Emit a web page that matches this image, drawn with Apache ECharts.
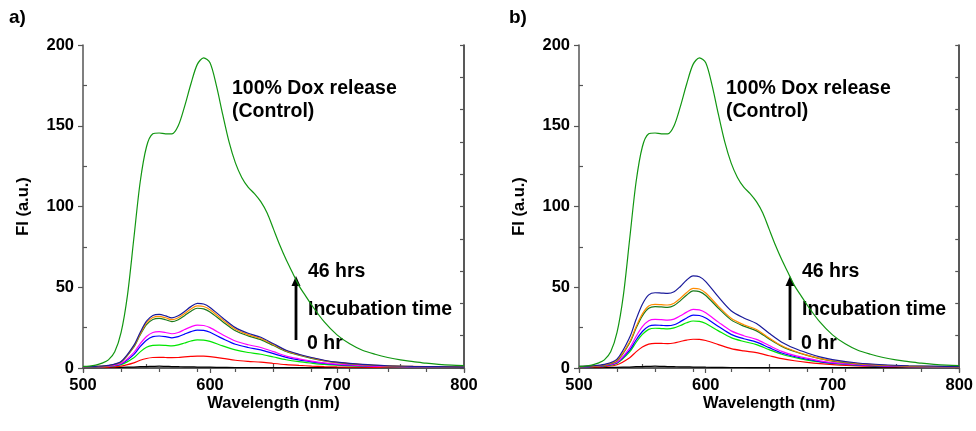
<!DOCTYPE html>
<html>
<head>
<meta charset="utf-8">
<script src="https://cdn.jsdelivr.net/npm/echarts@6/dist/echarts.min.js"></script>
<style>
  html, body { margin: 0; padding: 0; background: #fff; }
  #chart { width: 976px; height: 431px; }
</style>
</head>
<body>
<div id="chart"></div>
<script>
// Wavelength grid (nm) for the time-series spectra
const wavelengths = [500,510,520,530,540,545,550,555,560,565,570,575,580,585,590,595,600,610,620,630,640,650,660,670,680,690,700,720,740,760,780,800];

// Control spectrum (100% Dox release), sampled separately
const controlWavelengths = [500,505,510,515,520,525,530,535,540,545,550,555,560,565,570,575,580,585,590,595,600,605,610,615,620,625,630,635,640,645,650,655,660,665,670,675,680,690,700,710,720,730,740,750,760,770,780,790,800];
const controlValues = [1,1.2,1.8,3,5,10,22,45,80,115,137,145,145.5,145,145,150,162,176,188,192,189,175,157,140,127,118,112,108,103,96,86,76,67,59,51,45,39,28.5,20.5,15,11,8.5,6.5,5,4,3,2.3,1.8,1.5];

// Incubation series, panel a
const a_0hr   = [0.2,0.2,0.3,0.4,0.6,0.8,0.9,1,1.1,1,0.9,0.8,0.7,0.7,0.6,0.6,0.5,0.4,0.3,0.3,0.2,0.2,0.2,0.2,0.2,0.2,0.2,0.2,0.2,0.2,0.2,0.2];
const a_red   = [0.3,0.4,0.6,1.2,3.2,4.8,5.9,6.5,6.6,6.5,6.4,6.5,6.9,7.2,7.4,7.3,7,6,4.8,4.1,3.6,2.8,2.1,1.6,1.2,0.9,0.7,0.5,0.4,0.3,0.3,0.3];
const a_lime  = [0.5,0.7,1,2,6.3,10,12.8,14,14.2,14,13.7,14.3,15.5,16.7,17.4,17.3,16.5,13.7,11.2,9.6,8.5,6.8,5.1,3.9,3,2.2,1.7,1.1,0.8,0.6,0.5,0.4];
const a_blue  = [0.6,0.8,1.1,2.5,8.3,13.2,17.2,19.4,19.8,19.4,18.7,19.4,21,22.5,23.5,23.3,22.1,18.2,14.7,12.7,11.2,8.9,6.6,5,3.8,2.8,2.1,1.3,0.9,0.7,0.5,0.5];
const a_mag   = [0.6,0.8,1.2,2.8,9.5,15,19.5,22,22.5,22,21.2,22,23.8,25.5,26.6,26.3,25,20.6,16.7,14.4,12.7,10.1,7.4,5.7,4.3,3.2,2.4,1.5,1,0.7,0.6,0.5];
const a_dkgrn = [0.7,0.9,1.5,3.7,12.9,20.4,26.8,30,30.7,29.9,28.7,29.9,32.4,35.2,37,36.6,34.7,28.7,23.1,19.9,17.6,13.9,10.2,7.9,6,4.4,3.3,2,1.3,0.9,0.7,0.6];
const a_orng  = [0.8,1,1.5,3.8,13.4,21,28,31.3,32,31.1,29.9,31.1,33.7,36.6,38.5,38.1,36.1,29.8,24,20.7,18.3,14.4,10.6,8.2,6.3,4.6,3.5,2.1,1.3,1,0.8,0.6];
const a_navy  = [0.8,1,1.6,4,14,22,29,32.5,33.2,32.3,31,32.3,35,38,40,39.6,37.5,31,25,21.5,19,15,11,8.5,6.5,4.8,3.6,2.2,1.4,1,0.8,0.6];

// Incubation series, panel b
const b_0hr   = [0.2,0.2,0.3,0.4,0.6,0.8,0.9,1,1.1,1,0.9,0.8,0.7,0.7,0.6,0.6,0.5,0.4,0.3,0.3,0.2,0.2,0.2,0.2,0.2,0.2,0.2,0.2,0.2,0.2,0.2,0.2];
const b_red   = [0.5,0.6,0.9,2,6.4,10,13,14.8,15.3,15.2,15.1,15.5,16.4,17.3,17.8,17.7,17,14.5,12,10.6,9.5,7.6,5.8,4.5,3.5,2.7,2.1,1.3,0.9,0.7,0.5,0.4];
const b_lime  = [0.7,0.9,1.3,3,10,15.8,20.8,23.9,24.6,24.4,24.2,24.8,26.3,28,29.1,28.9,27.5,23,18.8,16.4,14.5,11.4,8.5,6.5,4.9,3.7,2.8,1.7,1.1,0.8,0.6,0.5];
const b_blue  = [0.7,0.9,1.4,3.2,11,17.3,22.6,25.9,26.6,26.4,26.2,26.8,28.7,31,32.8,32.5,30.9,25.7,20.8,18.1,16,12.6,9.3,7.1,5.4,4,3,1.8,1.2,0.9,0.7,0.6];
const b_mag   = [0.8,1,1.6,3.6,12.4,19.5,25.6,29.3,30.1,29.9,29.6,30.3,32.3,34.6,36.3,36,34.2,28.4,23,20,17.7,13.9,10.3,7.8,6,4.4,3.3,2,1.3,0.9,0.7,0.6];
const b_dkgrn = [0.9,1.1,1.8,4.5,15.6,24.6,32.3,37,38,37.8,37.6,38.7,41.7,45.2,47.7,47.3,44.9,37,29.8,25.9,23,18,13.4,10.2,7.8,5.8,4.3,2.6,1.7,1.2,0.9,0.7];
const b_orng  = [0.9,1.1,1.9,4.7,16.2,25.5,33.5,38.4,39.4,39.2,39,40.1,43.2,46.8,49.3,48.9,46.4,38.2,30.8,26.8,23.8,18.6,13.8,10.5,8,6,4.5,2.7,1.7,1.2,0.9,0.7];
const b_navy  = [1,1.3,2.2,5.5,19,30,39.5,45.3,46.6,46.4,46.2,47.2,50.5,54.5,57,56.5,53.5,44,35.5,31,27.5,21.5,16,12.2,9.3,6.9,5.2,3.1,2,1.4,1.1,0.8];

// Axis ticks
const xTicks = [500, 600, 700, 800];
const yTicks = [0, 50, 100, 150, 200];

const seriesColors = ['#000000', '#ff0000', '#00e600', '#0000ff', '#ff00ff', '#1a7a1a', '#ff8c00', '#1a1a9a'];
const controlColor = '#119611';
const panelA = [a_0hr, a_red, a_lime, a_blue, a_mag, a_dkgrn, a_orng, a_navy];
const panelB = [b_0hr, b_red, b_lime, b_blue, b_mag, b_dkgrn, b_orng, b_navy];

const FONT = 'Liberation Sans, Arial, sans-serif';
const axisColor = '#555';

function pairs(xs, ys) { return xs.map((x, i) => [x, ys[i]]); }

const grids = [
  { left: 83, top: 45, width: 381, height: 323 },
  { left: 579, top: 45, width: 381, height: 323 }
];

const xAxes = [], yAxes = [], series = [];
grids.forEach((g, gi) => {
  xAxes.push({
    gridIndex: gi, type: 'value', min: xTicks[0], max: xTicks[xTicks.length - 1], interval: 100,
    name: 'Wavelength (nm)', nameLocation: 'middle', nameGap: 27, nameMoveOverlap: false,
    nameTextStyle: { fontFamily: FONT, fontWeight: 'bold', fontSize: 16.5, color: '#000' },
    axisLine: { lineStyle: { color: axisColor, width: 1.5 } },
    axisTick: { inside: false, length: 5, lineStyle: { color: axisColor, width: 1.2 } },
    minorTick: { show: true, splitNumber: 2, length: -4, lineStyle: { color: axisColor, width: 1.2 } },
    axisLabel: { fontFamily: FONT, fontWeight: 'bold', fontSize: 16.5, color: '#000', margin: 9 },
    splitLine: { show: false }
  });
  xAxes.push({
    gridIndex: gi, type: 'value', position: 'top', min: 500, max: 800, interval: 30,
    axisLine: { lineStyle: { color: axisColor, width: 1.5 } },
    axisTick: { inside: true, length: 4, lineStyle: { color: axisColor, width: 1.2 } },
    axisLabel: { show: false }, splitLine: { show: false }
  });
  yAxes.push({
    gridIndex: gi, type: 'value', min: yTicks[0], max: yTicks[yTicks.length - 1], interval: 50,
    name: 'FI (a.u.)', nameLocation: 'middle', nameGap: 51, nameRotate: 90, nameMoveOverlap: false,
    nameTextStyle: { fontFamily: FONT, fontWeight: 'bold', fontSize: 16.5, color: '#000' },
    axisLine: { show: true, lineStyle: { color: axisColor, width: 1.5 } },
    axisTick: { show: true, inside: false, length: 5, lineStyle: { color: axisColor, width: 1.2 } },
    minorTick: { show: true, splitNumber: 2, length: -4, lineStyle: { color: axisColor, width: 1.2 } },
    axisLabel: { fontFamily: FONT, fontWeight: 'bold', fontSize: 16.5, color: '#000', margin: 9 },
    splitLine: { show: false }
  });
  yAxes.push({
    gridIndex: gi, type: 'value', position: 'right', min: 0, max: 200, interval: 20,
    axisLine: { show: true, lineStyle: { color: '#222', width: 1.5 } },
    axisTick: { show: true, inside: true, length: 4, lineStyle: { color: axisColor, width: 1.2 } },
    axisLabel: { show: false }, splitLine: { show: false }
  });
});

function addSeries(gi, data, color, xs) {
  series.push({
    type: 'line', xAxisIndex: gi * 2, yAxisIndex: gi * 2,
    data: pairs(xs, data), showSymbol: false, smooth: 0.3, silent: true,
    lineStyle: { color: color, width: 1.2 }, z: 3
  });
}
[panelA, panelB].forEach((set, gi) => {
  set.forEach((d, i) => addSeries(gi, d, seriesColors[i], wavelengths));
  addSeries(gi, controlValues, controlColor, controlWavelengths);
});

function annotations(dx) {
  const t = (x, y, s) => ({
    type: 'text', left: x + dx, top: y,
    style: { text: s, font: 'bold 19.5px ' + FONT, fill: '#000' }
  });
  return [
    t(232, 79, '100% Dox release'),
    t(232, 102, '(Control)'),
    t(308, 262, '46 hrs'),
    t(308, 300, 'Incubation time'),
    t(307, 334, '0 hr'),
    { type: 'line', shape: { x1: 296 + dx, y1: 340, x2: 296 + dx, y2: 284 },
      style: { stroke: '#000', lineWidth: 2.8 } },
    { type: 'polygon', shape: { points: [[296 + dx, 276], [291.5 + dx, 286], [300.5 + dx, 286]] },
      style: { fill: '#000' } }
  ];
}

const chart = echarts.init(document.getElementById('chart'), null, { renderer: 'canvas' });
chart.setOption({
  animation: false,
  backgroundColor: '#fff',
  grid: grids,
  xAxis: xAxes,
  yAxis: yAxes,
  series: series,
  graphic: [
    { type: 'text', left: 9, top: 8, style: { text: 'a)', font: 'bold 19px ' + FONT, fill: '#000' } },
    { type: 'text', left: 509, top: 8, style: { text: 'b)', font: 'bold 19px ' + FONT, fill: '#000' } }
  ].concat(annotations(0), annotations(494))
});
</script>
</body>
</html>
